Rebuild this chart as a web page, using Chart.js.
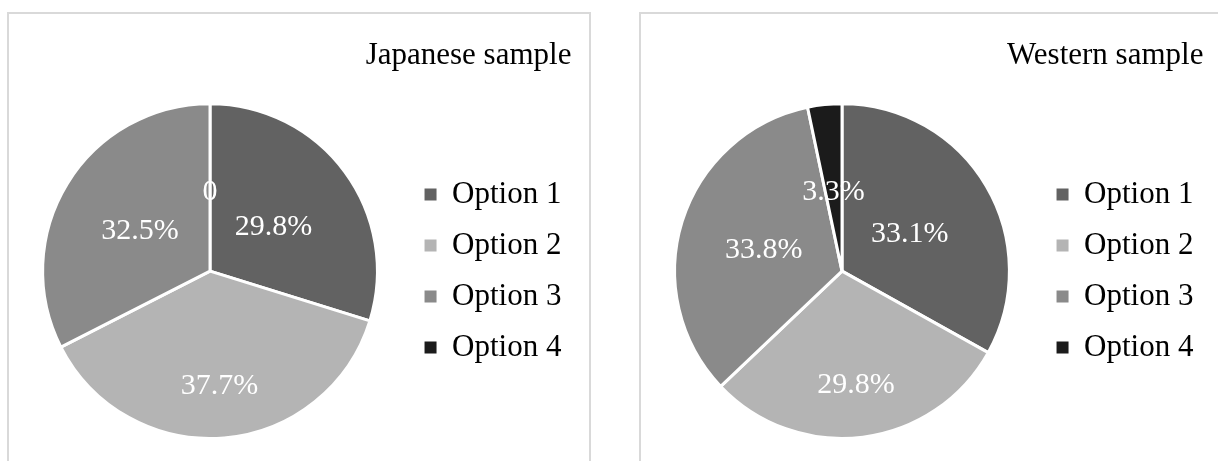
<!DOCTYPE html>
<html>
<head>
<meta charset="utf-8">
<title>Japanese / Western sample</title>
<script src="https://cdn.jsdelivr.net/npm/chart.js@4/dist/chart.umd.min.js"></script>
<style>
  body { margin: 0; background: #fff; width: 1218px; height: 461px; overflow: hidden; position: relative; }
  .box { position: absolute; top: 12px; width: 584px; height: 470px; box-sizing: border-box; border: 2px solid #d9d9d9; background: #fff; }
  .box canvas { display: block; }
</style>
</head>
<body>
<div class="box" style="left:7px"><canvas id="chartJp" width="580" height="466"></canvas></div>
<div class="box" style="left:639px"><canvas id="chartWest" width="580" height="466"></canvas></div>
<script>
const labels = ["Option 1", "Option 2", "Option 3", "Option 4"];
const japanese = [29.8, 37.7, 32.5, 0];
const western = [33.1, 29.8, 33.8, 3.3];

const colors = ["#626262", "#b4b4b4", "#8a8a8a", "#1b1b1b"];
// how far out (share of the radius) each value label sits
const labelRadius = [0.47, 0.67, 0.49, 0.49];

const serif = "'Liberation Serif', 'Times New Roman', serif";
Chart.defaults.font.family = serif;

function fmt(v) {
  return v === 0 ? "0" : v.toFixed(1) + "%";
}

// white value text on top of each slice
const sliceLabels = {
  id: "sliceLabels",
  afterDatasetsDraw(chart) {
    const ctx = chart.ctx;
    const meta = chart.getDatasetMeta(0);
    const values = chart.data.datasets[0].data;
    ctx.save();
    ctx.font = "30px " + serif;
    ctx.fillStyle = "#fff";
    ctx.textAlign = "center";
    ctx.textBaseline = "middle";
    meta.data.forEach((arc, i) => {
      const p = arc.getProps(["x", "y", "startAngle", "endAngle", "outerRadius"]);
      const mid = (p.startAngle + p.endAngle) / 2;
      const r = p.outerRadius * labelRadius[i];
      // +3: serif glyphs sit a bit high with a "middle" baseline
      ctx.fillText(fmt(values[i]), p.x + Math.cos(mid) * r, p.y + Math.sin(mid) * r + 3);
    });
    ctx.restore();
  }
};

function makePie(id, title, values) {
  return new Chart(document.getElementById(id), {
    type: "pie",
    data: {
      labels,
      datasets: [{
        data: values,
        backgroundColor: colors,
        borderColor: "#fff",
        borderWidth: 3
      }]
    },
    options: {
      responsive: false,
      animation: false,
      events: [],
      layout: { padding: { left: 6.5, right: 17.6, top: 0, bottom: 40 } },
      plugins: {
        tooltip: { enabled: false },
        title: {
          display: true,
          text: title,
          align: "end",
          color: "#000",
          font: { size: 31, weight: "normal" },
          padding: { top: 23, bottom: 28 }
        },
        legend: {
          position: "right",
          align: "center",
          fullSize: false,
          labels: {
            boxWidth: 12,
            boxHeight: 12,
            padding: 20,
            color: "#000",
            font: { size: 31 },
            generateLabels: (chart) => chart.data.labels.map((text, i) => ({
              text,
              fillStyle: colors[i],
              strokeStyle: colors[i],
              lineWidth: 0,
              fontColor: "#000",
              hidden: false,
              index: i
            }))
          }
        }
      }
    },
    plugins: [sliceLabels]
  });
}

const chartJp = makePie("chartJp", "Japanese sample", japanese);
const chartWest = makePie("chartWest", "Western sample", western);
</script>
</body>
</html>
